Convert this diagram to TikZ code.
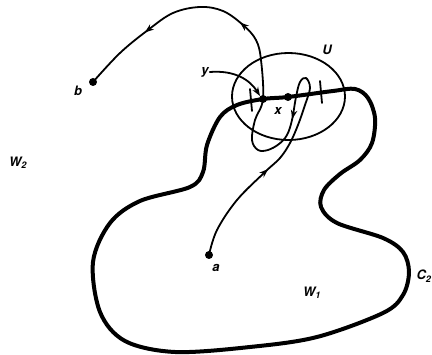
\documentclass[tikz,border=0pt]{standalone}
\usepackage{fontspec}
\setmainfont{TeX Gyre Heros}
\usetikzlibrary{arrows.meta,decorations.markings,shapes.geometric}
\begin{document}
\begin{tikzpicture}[x=1pt,y=-1pt,
  pathline/.style={line width=1.8pt, line cap=round, line join=round},
  boundary/.style={line width=4pt, line cap=round, line join=round},
  dot/.style={circle, fill=black, inner sep=0pt, minimum size=8pt},
  lbl/.style={font=\bfseries\itshape\fontsize{13}{13}\selectfont, inner sep=1pt},
  mytip/.tip={Stealth[length=9pt,width=6.5pt]}
]
\useasboundingbox (0,0) rectangle (432,355);
% dots
\node[dot] (a) at (209,255) {};
\node[dot] (b) at (93,82) {};
\node[dot] (y) at (263,99) {};
\node[dot] (x) at (288,97) {};
% boundary C2
\draw[boundary] plot[smooth cycle, tension=0.55] coordinates {
 (237,105) (y.center) (x.center) (333,91) (355,89) (368,98) (375,118) (372,143)
 (360,160) (340,174) (324,190) (321,207) (337,223) (383,238) (403,252) (409,272)
 (403,295) (383,313) (317,337) (250,347) (175,352) (125,341) (100,312) (93,262)
 (110,223) (140,201) (190,187) (203,172) (207,145) (220,117)};
% neighbourhood U
\node[draw, line width=1.8pt, ellipse, minimum width=113pt, minimum height=87pt, inner sep=0pt] (U) at (288.5,96.5) {};
% ticks
\coordinate (t1a) at (250,89); \coordinate (t1b) at (252,111);
\coordinate (t2a) at (320,81); \coordinate (t2b) at (322,103);
\draw[pathline] (t1a) -- (t1b);
\draw[pathline] (t2a) -- (t2b);
% path from a to b
\draw[pathline,
  postaction={decorate, decoration={markings,
    mark=at position 0.17 with {\arrow{mytip}},
    mark=at position 0.41 with {\arrow{mytip}},
    mark=at position 0.715 with {\arrow{mytip}},
    mark=at position 0.885 with {\arrow{mytip}}}}]
 plot[smooth, tension=0.6] coordinates {
 (a.center) (217,230) (237,200) (265,172) (280,158) (290,143) (298,125) (305,105)
 (310,88) (306,78) (300,82) (296,97) (292,120) (287,135) (279,144) (268,150)
 (258,150) (252,140) (255,120) (y.center) (261,60) (256,40) (243,25) (223,11)
 (200,7) (173,13) (148,30) (120,53) (b.center)};
% y arrow
\node[lbl] (ylbl) at (205,72) {y};
\draw[pathline, -{mytip}] (ylbl.east) .. controls (235,70) and (250,80) .. (y.north west);
% labels
\node[lbl] at (327,50) {U};
\node[lbl] at (278,111) {x};
\node[lbl] at (78,91) {b};
\node[lbl] at (216,268) {a};
\node[lbl] at (312,293) {W\textsubscript{1}};
\node[lbl] at (18,163) {W\textsubscript{2}};
\node[lbl] at (424,276) {C\textsubscript{2}};
\end{tikzpicture}
\end{document}
